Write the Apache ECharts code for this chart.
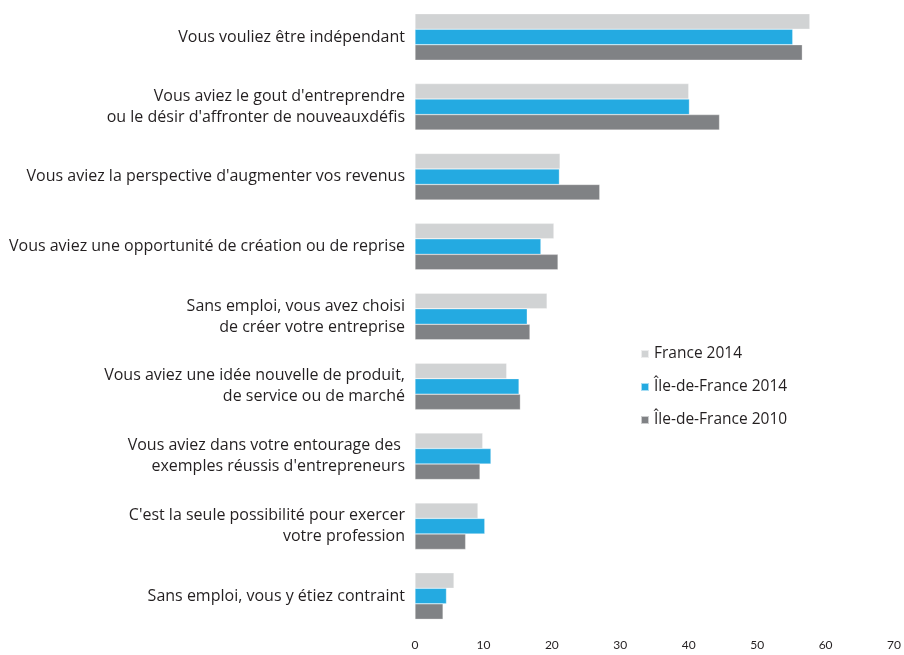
<!DOCTYPE html>
<html>
<head>
<meta charset="utf-8">
<script src="https://cdn.jsdelivr.net/npm/echarts@6/dist/echarts.min.js"></script>
<style>
  html, body { margin: 0; padding: 0; background: #fff; }
  #main { width: 904px; height: 655px; }
</style>
</head>
<body>
<div id="main"></div>
<script>
// catégories (de haut en bas)
var categories = [
  "Vous vouliez être indépendant",
  "Vous aviez le gout d'entreprendre\nou le désir d'affronter de nouveauxdéfis",
  "Vous aviez la perspective d'augmenter vos revenus",
  "Vous aviez une opportunité de création ou de reprise",
  "Sans emploi, vous avez choisi\nde créer votre entreprise",
  "Vous aviez une idée nouvelle de produit,\nde service ou de marché",
  "Vous aviez dans votre entourage des \nexemples réussis d'entrepreneurs",
  "C'est la seule possibilité pour exercer\nvotre profession",
  "Sans emploi, vous y étiez contraint"
];
var france2014 = [57.7, 40.0, 21.2, 20.3, 19.3, 13.4, 9.9, 9.2, 5.7];
var idf2014 = [55.2, 40.1, 21.1, 18.4, 16.4, 15.2, 11.1, 10.2, 4.6];
var idf2010 = [56.6, 44.5, 27.0, 20.9, 16.8, 15.4, 9.5, 7.4, 4.1];
var xTicks = [0, 10, 20, 30, 40, 50, 60, 70];

var chart = echarts.init(document.getElementById("main"));

function serie(name, data, color) {
  return {
    name: name,
    type: "bar",
    data: data,
    barWidth: 15.5,
    barGap: "0%",
    itemStyle: { color: color, borderColor: "rgba(255,255,255,0.6)", borderWidth: 0.5 }
  };
}

var option = {
  animation: false,
  backgroundColor: "#fff",
  grid: { left: 415, right: 9, top: 2, height: 629, containLabel: false },
  legend: {
    orient: "vertical",
    left: 635,
    top: 341,
    itemWidth: 8,
    itemHeight: 8,
    itemGap: 17,
    icon: "rect",
    textStyle: { fontFamily: "Open Sans", fontSize: 15.5, color: "#231f20", padding: [0, 0, 0, 0] },
    data: ["France 2014", "Île-de-France 2014", "Île-de-France 2010"]
  },
  xAxis: {
    type: "value",
    min: xTicks[0],
    max: xTicks[xTicks.length - 1],
    interval: 10,
    axisLine: { show: false },
    axisTick: { show: false },
    splitLine: { show: false },
    axisLabel: { margin: 8, fontFamily: "Lato", fontSize: 12, color: "#231f20" }
  },
  yAxis: {
    type: "category",
    inverse: true,
    data: categories,
    axisLine: { show: false },
    axisTick: { show: false },
    axisLabel: {
      margin: 10,
      fontFamily: "Open Sans",
      fontSize: 16,
      lineHeight: 21,
      color: "#231f20",
      align: "right"
    }
  },
  series: [
    serie("France 2014", france2014, "#d1d3d4"),
    serie("Île-de-France 2014", idf2014, "#24aae1"),
    serie("Île-de-France 2010", idf2010, "#808285")
  ]
};
chart.setOption(option);
</script>
</body>
</html>
